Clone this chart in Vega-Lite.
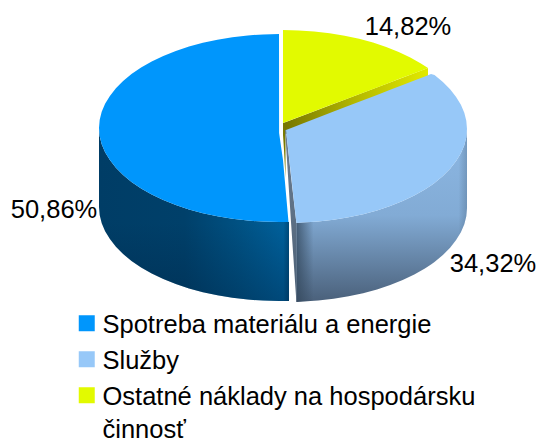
{
"$schema":"https://vega.github.io/schema/vega-lite/v6.json",
"width":536,"height":439,"padding":0,"autosize":{"type":"none"},
"background":"white",
"config":{"view":{"stroke":null},"font":"Liberation Sans"},
"datasets":{
"shares":[
{"category":"Spotreba materiálu a energie","share":50.86,"label":"50,86%","lx":54,"ly":210},
{"category":"Služby","share":34.32,"label":"34,32%","lx":493,"ly":264},
{"category":"Ostatné náklady na hospodársku činnosť","share":14.82,"label":"14,82%","lx":408,"ly":27}
],
"outline":[
{"part":"wallBlue","x":99,"y":128,"y2":207},{"part":"wallBlue","x":99.7,"y":136.2,"y2":215.2},{"part":"wallBlue","x":101.7,"y":144.3,"y2":223.3},{"part":"wallBlue","x":105.1,"y":152.3,"y2":231.3},{"part":"wallBlue","x":109.9,"y":160.1,"y2":239.1},{"part":"wallBlue","x":115.9,"y":167.7,"y2":246.7},{"part":"wallBlue","x":123.1,"y":175,"y2":254},{"part":"wallBlue","x":131.5,"y":181.9,"y2":260.9},{"part":"wallBlue","x":141.1,"y":188.4,"y2":267.4},{"part":"wallBlue","x":151.7,"y":194.5,"y2":273.5},{"part":"wallBlue","x":163.3,"y":200,"y2":279},{"part":"wallBlue","x":175.8,"y":205,"y2":284},{"part":"wallBlue","x":189,"y":209.4,"y2":288.4},{"part":"wallBlue","x":202.9,"y":213.2,"y2":292.2},{"part":"wallBlue","x":217.4,"y":216.3,"y2":295.3},{"part":"wallBlue","x":232.4,"y":218.8,"y2":297.8},{"part":"wallBlue","x":247.8,"y":220.6,"y2":299.6},{"part":"wallBlue","x":263.3,"y":221.6,"y2":300.6},{"part":"wallBlue","x":279,"y":222,"y2":301},{"part":"wallBlue","x":289,"y":222,"y2":301},
{"part":"wallYellow","x":283,"y":123,"y2":132},{"part":"wallYellow","x":286,"y":121.9,"y2":134},{"part":"wallYellow","x":428,"y":68,"y2":80},
{"part":"edgeYellow","x":283,"y":123,"y2":135},{"part":"edgeYellow","x":284,"y":123,"y2":150},{"part":"edgeYellow","x":285.5,"y":130,"y2":178},
{"part":"sliver","x":285,"y":130,"y2":130},{"part":"sliver","x":286,"y":130,"y2":145},{"part":"sliver","x":291,"y":176.5,"y2":222},{"part":"sliver","x":296.4,"y":223,"y2":302},
{"part":"wallLight","x":296.4,"y":223,"y2":302},{"part":"wallLight","x":302.7,"y":222.6,"y2":301.6},{"part":"wallLight","x":318.2,"y":221.6,"y2":300.6},{"part":"wallLight","x":333.6,"y":219.8,"y2":298.8},{"part":"wallLight","x":348.6,"y":217.3,"y2":296.3},{"part":"wallLight","x":363.1,"y":214.2,"y2":293.2},{"part":"wallLight","x":377,"y":210.4,"y2":289.4},{"part":"wallLight","x":390.2,"y":206,"y2":285},{"part":"wallLight","x":402.7,"y":201,"y2":280},{"part":"wallLight","x":414.3,"y":195.5,"y2":274.5},{"part":"wallLight","x":424.9,"y":189.4,"y2":268.4},{"part":"wallLight","x":431,"y":185.6,"y2":264.6},{"part":"wallLight","x":434.5,"y":182.9,"y2":261.9},{"part":"wallLight","x":442.9,"y":176,"y2":255},{"part":"wallLight","x":450.1,"y":168.7,"y2":247.7},{"part":"wallLight","x":456.1,"y":161.1,"y2":240.1},{"part":"wallLight","x":460.9,"y":153.3,"y2":232.3},{"part":"wallLight","x":464.3,"y":145.3,"y2":224.3},{"part":"wallLight","x":466.3,"y":137.2,"y2":216.2},{"part":"wallLight","x":467,"y":129,"y2":208},
{"part":"top","category":"Spotreba materiálu a energie","x":99,"y":128,"y2":128},{"part":"top","category":"Spotreba materiálu a energie","x":99.7,"y":119.8,"y2":136.2},{"part":"top","category":"Spotreba materiálu a energie","x":101.7,"y":111.7,"y2":144.3},{"part":"top","category":"Spotreba materiálu a energie","x":105.1,"y":103.7,"y2":152.3},{"part":"top","category":"Spotreba materiálu a energie","x":109.9,"y":95.9,"y2":160.1},{"part":"top","category":"Spotreba materiálu a energie","x":115.9,"y":88.3,"y2":167.7},{"part":"top","category":"Spotreba materiálu a energie","x":123.1,"y":81,"y2":175},{"part":"top","category":"Spotreba materiálu a energie","x":131.5,"y":74.1,"y2":181.9},{"part":"top","category":"Spotreba materiálu a energie","x":141.1,"y":67.6,"y2":188.4},{"part":"top","category":"Spotreba materiálu a energie","x":151.7,"y":61.5,"y2":194.5},{"part":"top","category":"Spotreba materiálu a energie","x":163.3,"y":56,"y2":200},{"part":"top","category":"Spotreba materiálu a energie","x":175.8,"y":51,"y2":205},{"part":"top","category":"Spotreba materiálu a energie","x":189,"y":46.6,"y2":209.4},{"part":"top","category":"Spotreba materiálu a energie","x":202.9,"y":42.8,"y2":213.2},{"part":"top","category":"Spotreba materiálu a energie","x":217.4,"y":39.7,"y2":216.3},{"part":"top","category":"Spotreba materiálu a energie","x":232.4,"y":37.2,"y2":218.8},{"part":"top","category":"Spotreba materiálu a energie","x":247.8,"y":35.4,"y2":220.6},{"part":"top","category":"Spotreba materiálu a energie","x":263.3,"y":34.4,"y2":221.6},{"part":"top","category":"Spotreba materiálu a energie","x":279,"y":34,"y2":222},{"part":"top","category":"Spotreba materiálu a energie","x":279.1,"y":133,"y2":222},{"part":"top","category":"Spotreba materiálu a energie","x":283,"y":160,"y2":222},{"part":"top","category":"Spotreba materiálu a energie","x":288.5,"y":222,"y2":222},
{"part":"top","category":"Služby","x":286,"y":130,"y2":130},{"part":"top","category":"Služby","x":296.4,"y":126,"y2":223},{"part":"top","category":"Služby","x":302.7,"y":123.6,"y2":222.6},{"part":"top","category":"Služby","x":318.2,"y":117.6,"y2":221.6},{"part":"top","category":"Služby","x":333.6,"y":111.6,"y2":219.8},{"part":"top","category":"Služby","x":348.6,"y":105.8,"y2":217.3},{"part":"top","category":"Služby","x":363.1,"y":100.2,"y2":214.2},{"part":"top","category":"Služby","x":377,"y":94.9,"y2":210.4},{"part":"top","category":"Služby","x":390.2,"y":89.8,"y2":206},{"part":"top","category":"Služby","x":402.7,"y":85,"y2":201},{"part":"top","category":"Služby","x":414.3,"y":80.5,"y2":195.5},{"part":"top","category":"Služby","x":424.9,"y":76.4,"y2":189.4},{"part":"top","category":"Služby","x":431,"y":74,"y2":185.6},{"part":"top","category":"Služby","x":434.5,"y":75.1,"y2":182.9},{"part":"top","category":"Služby","x":442.9,"y":82,"y2":176},{"part":"top","category":"Služby","x":450.1,"y":89.3,"y2":168.7},{"part":"top","category":"Služby","x":456.1,"y":96.9,"y2":161.1},{"part":"top","category":"Služby","x":460.9,"y":104.7,"y2":153.3},{"part":"top","category":"Služby","x":464.3,"y":112.7,"y2":145.3},{"part":"top","category":"Služby","x":466.3,"y":120.8,"y2":137.2},{"part":"top","category":"Služby","x":467,"y":129,"y2":129},
{"part":"top","category":"Ostatné náklady na hospodársku činnosť","x":283,"y":30,"y2":123},{"part":"top","category":"Ostatné náklady na hospodársku činnosť","x":298.7,"y":30.4,"y2":117},{"part":"top","category":"Ostatné náklady na hospodársku činnosť","x":314.2,"y":31.4,"y2":111.2},{"part":"top","category":"Ostatné náklady na hospodársku činnosť","x":329.6,"y":33.2,"y2":105.3},{"part":"top","category":"Ostatné náklady na hospodársku činnosť","x":344.6,"y":35.7,"y2":99.7},{"part":"top","category":"Ostatné náklady na hospodársku činnosť","x":359.1,"y":38.8,"y2":94.2},{"part":"top","category":"Ostatné náklady na hospodársku činnosť","x":373,"y":42.6,"y2":88.9},{"part":"top","category":"Ostatné náklady na hospodársku činnosť","x":386.2,"y":47,"y2":83.9},{"part":"top","category":"Ostatné náklady na hospodársku činnosť","x":398.7,"y":52,"y2":79.1},{"part":"top","category":"Ostatné náklady na hospodársku činnosť","x":410.3,"y":57.5,"y2":74.8},{"part":"top","category":"Ostatné náklady na hospodársku činnosť","x":420.9,"y":63.6,"y2":70.7},{"part":"top","category":"Ostatné náklady na hospodársku činnosť","x":428,"y":68,"y2":68}
]},
"encoding":{
"x":{"field":"x","type":"quantitative","scale":{"domain":[0,536],"nice":false,"zero":false},"axis":null},
"y":{"field":"y","type":"quantitative","scale":{"domain":[439,0],"nice":false,"zero":false},"axis":null}
},
"layer":[
{"data":{"name":"outline"},"transform":[{"filter":"datum.part=='wallBlue'"}],
 "mark":{"type":"area","fill":{"gradient":"linear","x1":0,"y1":0,"x2":1,"y2":0,"stops":[{"offset":0,"color":"#003d66"},{"offset":0.45,"color":"#00406a"},{"offset":0.75,"color":"#005284"},{"offset":0.97,"color":"#00609b"},{"offset":1,"color":"#004a7a"}]}},
 "encoding":{"y2":{"field":"y2"}}},
{"data":{"name":"outline"},"transform":[{"filter":"datum.part=='wallBlue'"}],
 "mark":{"type":"area","fill":{"gradient":"linear","x1":0,"y1":0,"x2":0,"y2":1,"stops":[{"offset":0.55,"color":"rgba(0,30,60,0)"},{"offset":1,"color":"rgba(0,30,60,0.35)"}]}},
 "encoding":{"y2":{"field":"y2"}}},
{"data":{"name":"outline"},"transform":[{"filter":"datum.part=='wallYellow'"}],
 "mark":{"type":"area","fill":{"gradient":"linear","x1":0,"y1":0,"x2":1,"y2":0,"stops":[{"offset":0,"color":"#757500"},{"offset":0.5,"color":"#b4b800"},{"offset":1,"color":"#e2ea00"}]}},
 "encoding":{"y2":{"field":"y2"}}},
{"data":{"name":"outline"},"transform":[{"filter":"datum.part=='edgeYellow'"}],
 "mark":{"type":"area","fill":"#7a7a00"},
 "encoding":{"y2":{"field":"y2"}}},
{"data":{"name":"outline"},"transform":[{"filter":"datum.part=='sliver'"}],
 "mark":{"type":"area","fill":{"gradient":"linear","x1":0,"y1":0,"x2":0,"y2":1,"stops":[{"offset":0,"color":"#6d7f92"},{"offset":1,"color":"#4c6076"}]}},
 "encoding":{"y2":{"field":"y2"}}},
{"data":{"name":"outline"},"transform":[{"filter":"datum.part=='wallLight'"}],
 "mark":{"type":"area","fill":{"gradient":"linear","x1":0,"y1":0,"x2":0,"y2":1,"stops":[{"offset":0,"color":"#8db8e4"},{"offset":0.5,"color":"#82abd5"},{"offset":1,"color":"#4a607a"}]}},
 "encoding":{"y2":{"field":"y2"}}},
{"data":{"name":"outline"},"transform":[{"filter":"datum.part=='wallLight'"}],
 "mark":{"type":"area","fill":{"gradient":"linear","x1":0,"y1":0,"x2":1,"y2":0,"stops":[{"offset":0,"color":"rgba(50,70,90,0.75)"},{"offset":0.1,"color":"rgba(50,70,90,0)"},{"offset":0.95,"color":"rgba(50,70,90,0)"},{"offset":1,"color":"rgba(50,70,90,0.25)"}]}},
 "encoding":{"y2":{"field":"y2"}}},
{"data":{"name":"outline"},"transform":[{"filter":"datum.part=='top'"}],
 "mark":{"type":"area"},
 "encoding":{"y2":{"field":"y2"},
  "color":{"field":"category","type":"nominal","sort":null,
   "scale":{"domain":["Spotreba materiálu a energie","Služby","Ostatné náklady na hospodársku činnosť"],"range":["#0096fc","#97c8f8","#e2fa00"]},
   "legend":{"title":null,"orient":"none","legendX":74,"legendY":310.5,"symbolType":"square","symbolSize":256,"symbolStrokeWidth":0,"labelFont":"Liberation Sans","labelFontSize":25.5,"labelColor":"#000000","labelLimit":460,"rowPadding":7,"labelOffset":3,"labelBaseline":"top",
    "labelExpr":"datum.label=='Ostatné náklady na hospodársku činnosť'?['Ostatné náklady na hospodársku','činnosť']:datum.label",
    "encode":{"labels":{"update":{"dy":{"value":-10},"lineHeight":{"value":33}}}}}}}},
{"data":{"name":"shares"},"mark":{"type":"text","font":"Liberation Sans","fontSize":25.5,"color":"#000000","align":"center","baseline":"middle"},
 "encoding":{"x":{"field":"lx","type":"quantitative"},"y":{"field":"ly","type":"quantitative"},"text":{"field":"label"}}}
]
}
